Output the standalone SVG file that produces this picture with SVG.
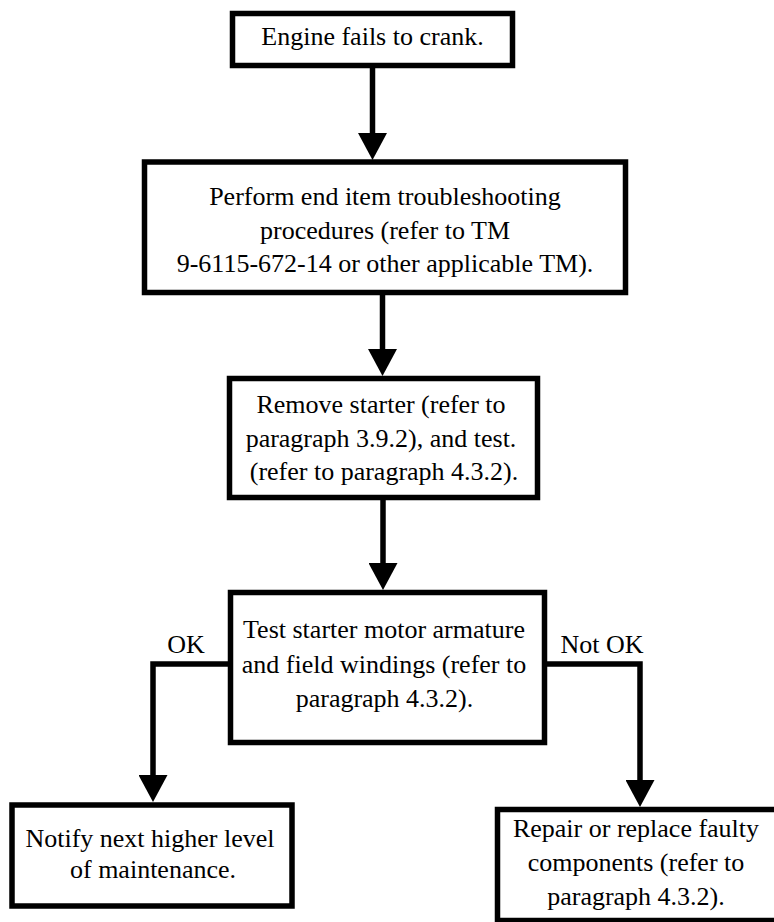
<svg xmlns="http://www.w3.org/2000/svg" width="774" height="922" viewBox="0 0 774 922">
  <style>
    .box { fill: #ffffff; stroke: #000000; stroke-width: 5.5; }
    .lbl { font-family: 'Liberation Serif', Tinos, 'Times New Roman', 'DejaVu Serif', serif; font-size: 26px; fill: #000000; text-anchor: middle; }
    .conn { fill: none; stroke: #000000; stroke-width: 5.5; stroke-linejoin: miter; }
  </style>
  <defs>
    <marker id="arrow" markerUnits="userSpaceOnUse" viewBox="0 0 27 29" markerWidth="27" markerHeight="29" refX="7" refY="14.5" orient="auto">
      <path d="M0,0 L27,14.5 L0,29 Z" fill="#000000"/>
    </marker>
  </defs>
  <rect width="774" height="922" fill="#ffffff"/>

  <g id="connectors">
    <path class="conn" d="M372.5,66 V140" marker-end="url(#arrow)"/>
    <path class="conn" d="M382.5,293 V356" marker-end="url(#arrow)"/>
    <path class="conn" d="M383,498 V570" marker-end="url(#arrow)"/>
    <path class="conn" d="M230,664 H153 V782" marker-end="url(#arrow)"/>
    <path class="conn" d="M545,664 H640 V787" marker-end="url(#arrow)"/>
    <text class="lbl" font-family="Liberation Serif, serif" x="186" y="653">OK</text>
    <text class="lbl" font-family="Liberation Serif, serif" x="602" y="653">Not OK</text>
  </g>

  <g id="n1" font-family="Liberation Serif, serif">
    <rect class="box" x="232.5" y="13.5" width="280" height="52"/>
    <text class="lbl" x="372.5" y="45">Engine fails to crank.</text>
  </g>

  <g id="n2" font-family="Liberation Serif, serif">
    <rect class="box" x="144.5" y="162" width="481" height="130.5"/>
    <text class="lbl" x="385" y="205">Perform end item troubleshooting</text>
    <text class="lbl" x="385" y="238.5">procedures (refer to TM</text>
    <text class="lbl" x="385" y="272">9-6115-672-14 or other applicable TM).</text>
  </g>

  <g id="n3" font-family="Liberation Serif, serif">
    <rect class="box" x="229.5" y="378.5" width="308" height="119"/>
    <text class="lbl" x="381" y="413">Remove starter (refer to</text>
    <text class="lbl" x="381" y="446.5">paragraph 3.9.2), and test.</text>
    <text class="lbl" x="384" y="480">(refer to paragraph 4.3.2).</text>
  </g>

  <g id="n4" font-family="Liberation Serif, serif">
    <rect class="box" x="230.5" y="592.5" width="314" height="150"/>
    <text class="lbl" x="384" y="638">Test starter motor armature</text>
    <text class="lbl" x="384" y="673">and field windings (refer to</text>
    <text class="lbl" x="384.5" y="707">paragraph 4.3.2).</text>
  </g>

  <g id="n5" font-family="Liberation Serif, serif">
    <rect class="box" x="12" y="805" width="280" height="101"/>
    <text class="lbl" x="150" y="847">Notify next higher level</text>
    <text class="lbl" x="153" y="878">of maintenance.</text>
  </g>

  <g id="n6" font-family="Liberation Serif, serif">
    <rect class="box" x="497.5" y="809.5" width="290" height="111"/>
    <text class="lbl" x="636" y="837">Repair or replace faulty</text>
    <text class="lbl" x="636" y="871">components (refer to</text>
    <text class="lbl" x="636" y="905">paragraph 4.3.2).</text>
  </g>
</svg>
